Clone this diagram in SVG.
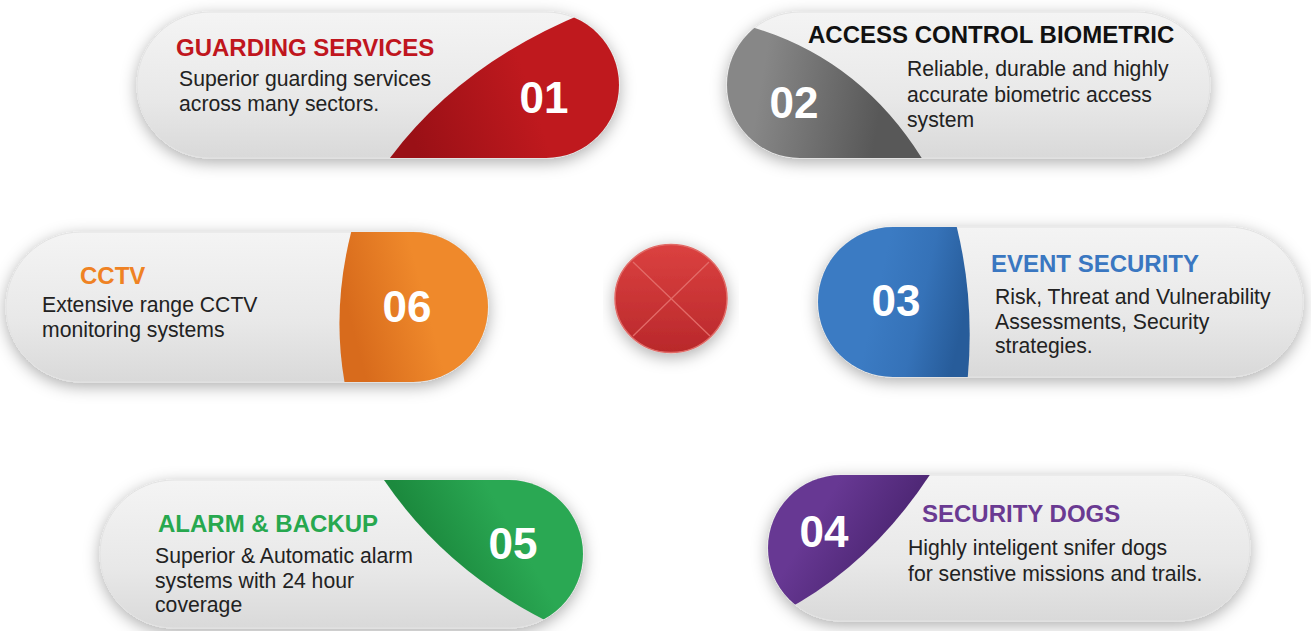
<svg xmlns="http://www.w3.org/2000/svg" width="1311" height="631" viewBox="0 0 1311 631">
<style>
.pill{fill:url(#pillG);stroke:#e2e2e2;stroke-width:1}
.t{font-family:"Liberation Sans",Arial,Helvetica,sans-serif;font-weight:bold;font-size:24px}
.b{font-family:"Liberation Sans",Arial,Helvetica,sans-serif;font-size:21.2px;fill:#222}
.n{font-family:"Liberation Sans",Arial,Helvetica,sans-serif;font-weight:bold;font-size:44px;fill:#fff;text-anchor:middle}
</style>
<defs>
<filter id="sh" x="-10%" y="-30%" width="120%" height="160%">
<feDropShadow dx="0" dy="4" stdDeviation="8" flood-color="#000" flood-opacity="0.32"/>
</filter>
<linearGradient id="pillG" x1="0" y1="0" x2="0" y2="1">
<stop offset="0" stop-color="#f4f4f4"/><stop offset="0.6" stop-color="#e8e8e8"/><stop offset="1" stop-color="#d9d9d9"/>
</linearGradient>
<linearGradient id="gRed" gradientUnits="userSpaceOnUse" x1="410" y1="130" x2="530" y2="90">
<stop offset="0" stop-color="#9a1016"/><stop offset="1" stop-color="#bf191e"/>
</linearGradient>
<linearGradient id="gGray" gradientUnits="userSpaceOnUse" x1="880" y1="110" x2="760" y2="90">
<stop offset="0" stop-color="#585858"/><stop offset="1" stop-color="#878787"/>
</linearGradient>
<linearGradient id="gOra" gradientUnits="userSpaceOnUse" x1="345" y1="300" x2="420" y2="280">
<stop offset="0" stop-color="#d86b1c"/><stop offset="1" stop-color="#ef892b"/>
</linearGradient>
<linearGradient id="gBlue" gradientUnits="userSpaceOnUse" x1="968" y1="300" x2="880" y2="280">
<stop offset="0" stop-color="#275c9a"/><stop offset="0.5" stop-color="#3572b8"/><stop offset="1" stop-color="#3b7bc3"/>
</linearGradient>
<linearGradient id="gGreen" gradientUnits="userSpaceOnUse" x1="440" y1="565" x2="510" y2="525">
<stop offset="0" stop-color="#1c8a3e"/><stop offset="1" stop-color="#2aa853"/>
</linearGradient>
<linearGradient id="gPur" gradientUnits="userSpaceOnUse" x1="880" y1="560" x2="815" y2="520">
<stop offset="0" stop-color="#4e2775"/><stop offset="1" stop-color="#673893"/>
</linearGradient>
<linearGradient id="gCirc" x1="0" y1="0" x2="0" y2="1">
<stop offset="0" stop-color="#db4140"/><stop offset="1" stop-color="#b9282b"/>
</linearGradient>
<clipPath id="c1"><rect x="137" y="12" width="482" height="146" rx="73"/></clipPath>
<clipPath id="c2"><rect x="727" y="12" width="483" height="146" rx="73"/></clipPath>
<clipPath id="c6"><rect x="6" y="232" width="482" height="150" rx="75"/></clipPath>
<clipPath id="c3"><rect x="818" y="227" width="485" height="150" rx="75"/></clipPath>
<clipPath id="c5"><rect x="100" y="480" width="483" height="148" rx="74"/></clipPath>
<clipPath id="c4"><rect x="768" y="475" width="482" height="146" rx="73"/></clipPath>
</defs>
<rect width="1311" height="631" fill="#ffffff"/>
<g id="connectors"/>
<g id="node-01">
<rect class="pill" x="137" y="12" width="482" height="146" rx="73" filter="url(#sh)"/>
<path d="M387,162 Q460,62 592,10 L640,10 L640,170 Z" fill="url(#gRed)" clip-path="url(#c1)"/>
<text class="t" x="176" y="56" fill="#c0161e">GUARDING SERVICES</text>
<text class="b" x="179" y="86">Superior guarding services</text>
<text class="b" x="179" y="111">across many sectors.</text>
<text class="n" x="544" y="113">01</text>
</g>
<g id="node-02">
<rect class="pill" x="727" y="12" width="483" height="146" rx="73" filter="url(#sh)"/>
<path d="M748,26 Q862,58 926,165 L700,165 L700,10 Z" fill="url(#gGray)" clip-path="url(#c2)"/>
<text class="t" x="808" y="43" fill="#111">ACCESS CONTROL BIOMETRIC</text>
<text class="b" x="907" y="76">Reliable, durable and highly</text>
<text class="b" x="907" y="101.5">accurate biometric access</text>
<text class="b" x="907" y="127">system</text>
<text class="n" x="794" y="118">02</text>
</g>
<g id="node-06">
<rect class="pill" x="6" y="232" width="482" height="150" rx="75" filter="url(#sh)"/>
<path d="M353,225 Q330,310 346,390 L500,390 L500,225 Z" fill="url(#gOra)" clip-path="url(#c6)"/>
<text class="t" x="80" y="284" fill="#ef8223">CCTV</text>
<text class="b" x="42" y="312">Extensive range CCTV</text>
<text class="b" x="42" y="337">monitoring systems</text>
<text class="n" x="407" y="322">06</text>
</g>
<g id="node-03">
<rect class="pill" x="818" y="227" width="485" height="150" rx="75" filter="url(#sh)"/>
<path d="M955,220 Q976,300 967,385 L810,385 L810,220 Z" fill="url(#gBlue)" clip-path="url(#c3)"/>
<text class="t" x="991" y="272" fill="#3a77c1">EVENT SECURITY</text>
<text class="b" x="995" y="304">Risk, Threat and Vulnerability</text>
<text class="b" x="995" y="329">Assessments, Security</text>
<text class="b" x="995" y="353">strategies.</text>
<text class="n" x="896" y="316">03</text>
</g>
<g id="node-05">
<rect class="pill" x="100" y="480" width="483" height="148" rx="74" filter="url(#sh)"/>
<path d="M380,474 Q448,578 570,632 L600,632 L600,470 Z" fill="url(#gGreen)" clip-path="url(#c5)"/>
<text class="t" x="158" y="532" fill="#27a84f">ALARM &amp; BACKUP</text>
<text class="b" x="155" y="563">Superior &amp; Automatic alarm</text>
<text class="b" x="155" y="588">systems with 24 hour</text>
<text class="b" x="155" y="612">coverage</text>
<text class="n" x="513" y="559">05</text>
</g>
<g id="node-04">
<rect class="pill" x="768" y="475" width="482" height="146" rx="73" filter="url(#sh)"/>
<path d="M933,470 Q872,565 782,612 L760,612 L760,470 Z" fill="url(#gPur)" clip-path="url(#c4)"/>
<text class="t" x="922" y="522" fill="#6a3a92">SECURITY DOGS</text>
<text class="b" x="908" y="555">Highly inteligent snifer dogs</text>
<text class="b" x="908" y="581">for senstive missions and trails.</text>
<text class="n" x="824" y="547">04</text>
</g>
<g id="center">
<ellipse cx="671" cy="298.5" rx="56" ry="54" fill="url(#gCirc)" stroke="#e06a66" stroke-width="1.5" filter="url(#sh)"/>
<line x1="633" y1="262" x2="710" y2="336" stroke="#e36b68" stroke-width="1.3"/>
<line x1="709" y1="262" x2="633" y2="336" stroke="#e36b68" stroke-width="1.3"/>
</g>
</svg>
